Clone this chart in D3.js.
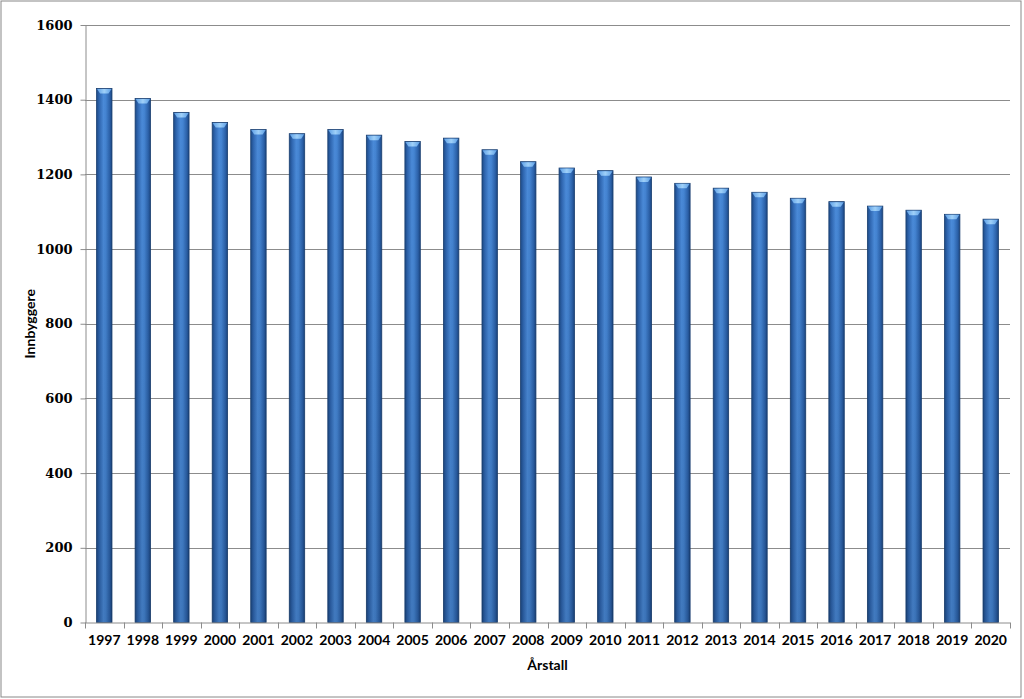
<!DOCTYPE html>
<html><head><meta charset="utf-8">
<script src="https://cdn.jsdelivr.net/npm/d3@7"></script>
<style>body{margin:0;background:#fff}svg{display:block}</style>
</head><body>
<script>
const years = ["1997","1998","1999","2000","2001","2002","2003","2004","2005","2006","2007","2008","2009","2010","2011","2012","2013","2014","2015","2016","2017","2018","2019","2020"];
const innbyggere = [1430,1403,1366,1339,1320,1309,1320,1305,1288,1297,1266,1234,1217,1210,1193,1176,1163,1152,1136,1127,1115,1104,1093,1080];
const yTicks = [0,200,400,600,800,1000,1200,1400,1600];
const xTitle = "Årstall";
const yTitle = "Innbyggere";

const W = 1024, H = 699;
const mLeft = 85, mRight = 1010, mTop = 25, mBottom = 622.5;
const svg = d3.select("body").append("svg").attr("width", W).attr("height", H);

const defs = svg.append("defs");
const g = defs.append("linearGradient").attr("id","barg").attr("x1","0").attr("x2","1").attr("y1","0").attr("y2","0");
[["0%","#1d4a86"],["18%","#2f66b0"],["45%","#4a8ad8"],["60%","#4484d2"],["85%","#2c62aa"],["100%","#1b4580"]]
  .forEach(([o,c]) => g.append("stop").attr("offset",o).attr("stop-color",c));
const gv = defs.append("linearGradient").attr("id","shade").attr("x1","0").attr("x2","0").attr("y1","0").attr("y2","1");
gv.append("stop").attr("offset","0%").attr("stop-color","#000").attr("stop-opacity",0);
gv.append("stop").attr("offset","100%").attr("stop-color","#000").attr("stop-opacity",0.12);
const gc = defs.append("linearGradient").attr("id","cap").attr("x1","0").attr("x2","1");
[["0%","#5d9fe6"],["50%","#9fd0f8"],["100%","#5d9fe6"]].forEach(([o,c]) => gc.append("stop").attr("offset",o).attr("stop-color",c));

svg.append("rect").attr("x",1).attr("y",1).attr("width",1020).attr("height",696)
  .attr("fill","#fff").attr("stroke","#888").attr("stroke-width",1);

const x = d3.scaleBand().domain(years).range([mLeft, mRight]).paddingInner(0.6).paddingOuter(0.3);
const y = d3.scaleLinear().domain([0,1600]).range([mBottom, mTop]);

// gridlines
svg.append("g").selectAll("line").data(yTicks.filter(d=>d>0)).join("line")
  .attr("x1", mLeft).attr("x2", mRight).attr("y1", d=>Math.round(y(d))+0.5).attr("y2", d=>Math.round(y(d))+0.5)
  .attr("stroke","#8c8c8c").attr("stroke-width",1);

// bars
const bars = svg.append("g");
years.forEach((yr,i) => {
  const bx = x(yr), bw = x.bandwidth(), by = y(innbyggere[i]), bh = mBottom - by;
  bars.append("rect").attr("x",bx).attr("y",by).attr("width",bw).attr("height",bh)
    .attr("fill","url(#barg)").attr("stroke","#1a3f70").attr("stroke-width",0.8);
  bars.append("rect").attr("x",bx).attr("y",by).attr("width",bw).attr("height",bh)
    .attr("fill","url(#shade)");
  bars.append("path").attr("d",`M${bx+0.5},${by+0.5} L${bx+bw-0.5},${by+0.5} L${bx+bw-3.5},${by+5} L${bx+3.5},${by+5} Z`)
    .attr("fill","url(#cap)");
});

// y axis
const yAxis = svg.append("g").attr("transform",`translate(${mLeft+0.5},0)`)
  .call(d3.axisLeft(y).tickValues(yTicks).tickSize(5).tickSizeOuter(0).tickPadding(8).tickFormat(d3.format("d")));
yAxis.select(".domain").attr("stroke","#8c8c8c");
yAxis.selectAll(".tick line").attr("stroke","#8c8c8c");
yAxis.selectAll("text").attr("fill","#000").style("font-family","'DejaVu Serif', 'Liberation Serif', serif")
  .style("font-size","13px").style("font-weight","bold");

// x axis
const xAxis = svg.append("g").attr("transform",`translate(0,${mBottom+0.5})`)
  .call(d3.axisBottom(x).tickSize(0).tickPadding(12));
xAxis.select(".domain").attr("stroke","#8c8c8c").attr("d",`M${mLeft},0H${mRight}`);
xAxis.selectAll("text").attr("fill","#000").style("font-family","Lato, 'Open Sans', sans-serif")
  .style("font-size","14px").style("font-weight","bold");
// x ticks at band boundaries
const bounds = d3.range(years.length+1).map(i => mLeft + i*(mRight-mLeft)/years.length);
svg.append("g").selectAll("line").data(bounds).join("line")
  .attr("x1",d=>Math.round(d)+0.5).attr("x2",d=>Math.round(d)+0.5).attr("y1",mBottom).attr("y2",mBottom+6)
  .attr("stroke","#8c8c8c");

svg.append("text").attr("x",(mLeft+mRight)/2).attr("y",670).attr("text-anchor","middle")
  .style("font-family","Lato, 'Open Sans', sans-serif").style("font-size","14px").style("font-weight","bold").text(xTitle);
svg.append("text").attr("transform",`translate(35,${(mTop+mBottom)/2}) rotate(-90)`).attr("text-anchor","middle")
  .style("font-family","Lato, 'Open Sans', sans-serif").style("font-size","14px").style("font-weight","bold").text(yTitle);
</script>
</body></html>
